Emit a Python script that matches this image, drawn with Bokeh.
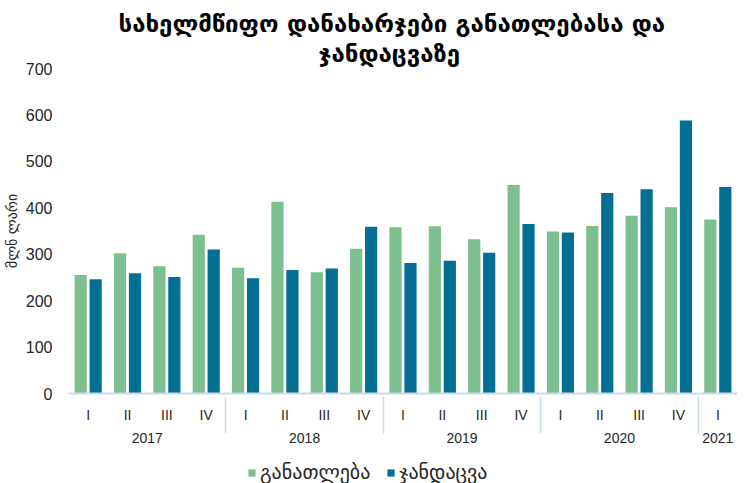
from bokeh.plotting import figure
from bokeh.layouts import column
from bokeh.models import (FactorRange, ColumnDataSource, FixedTicker, Legend, LegendItem,
                          Title, Range1d)
from bokeh.transform import dodge
from bokeh.embed import file_html
from bokeh.resources import INLINE

years = ["2017"] * 4 + ["2018"] * 4 + ["2019"] * 4 + ["2020"] * 4 + ["2021"]
quarters = ["I", "II", "III", "IV"] * 4 + ["I"]
education = [255, 302, 274, 342, 271, 413, 261, 312, 358, 360, 332, 449, 349, 361, 383, 401, 375]
health = [246, 259, 251, 310, 248, 266, 269, 359, 281, 286, 303, 365, 347, 432, 440, 588, 445]
series_names = ["განათლება", "ჯანდაცვა"]
title_lines = ["სახელმწიფო დანახარჯები განათლებასა და", "ჯანდაცვაზე"]
y_label = "მლნ ლარი"
y_ticks = [0, 100, 200, 300, 400, 500, 600, 700]

GREEN = "#7EBF8F"
BLUE = "#036F93"
SEP = "#C9DAEE"
TXT = "#262626"

factors = list(zip(years, quarters))
src = ColumnDataSource(dict(x=factors, edu=education, hl=health))

p = figure(x_range=FactorRange(*factors, group_padding=0, range_padding=0),
           y_range=(0, 700), frame_width=669, frame_height=325,
           output_backend="svg", toolbar_location=None,
           min_border_left=61, min_border_right=4, min_border_top=4, min_border_bottom=67)

r1 = p.vbar(x=dodge("x", -0.19, range=p.x_range), top="edu", width=0.31, source=src,
            fill_color=GREEN, line_color=None)
r2 = p.vbar(x=dodge("x", 0.19, range=p.x_range), top="hl", width=0.31, source=src,
            fill_color=BLUE, line_color=None)

p.add_layout(Title(text=title_lines[1], align="left", offset=250, text_font="DejaVu Sans",
                   text_font_size="24px", text_font_style="bold", text_color="black",
                   standoff=1), "above")
p.add_layout(Title(text=title_lines[0], align="left", offset=50, text_font="DejaVu Sans",
                   text_font_size="24px", text_font_style="bold", text_color="black",
                   standoff=0), "above")
# small blank strip above the title
p.add_layout(Title(text=" ", text_font_size="4px", standoff=0), "above")

p.outline_line_color = None
p.xgrid.grid_line_color = None
p.ygrid.grid_line_color = None

ya = p.yaxis[0]
ya.ticker = FixedTicker(ticks=y_ticks)
ya.axis_line_color = None
ya.major_tick_line_color = None
ya.minor_tick_line_color = None
ya.major_label_text_font = "Liberation Sans"
ya.major_label_text_font_size = "16px"
ya.major_label_text_color = TXT
ya.major_label_standoff = 10
ya.axis_label = y_label
ya.axis_label_text_font = "DejaVu Sans"
ya.axis_label_text_font_size = "14px"
ya.axis_label_text_font_style = "normal"
ya.axis_label_text_color = TXT
ya.axis_label_standoff = 3

xa = p.xaxis[0]
xa.axis_line_color = SEP
xa.axis_line_width = 2
xa.major_tick_line_color = None
xa.minor_tick_line_color = None
xa.major_label_text_font = "Liberation Sans"
xa.major_label_text_font_size = "14px"
xa.major_label_text_color = TXT
xa.major_label_standoff = 7
xa.group_text_font = "Liberation Sans"
xa.group_text_font_size = "14px"
xa.group_text_font_style = "normal"
xa.group_text_color = TXT
xa.separator_line_color = SEP
xa.separator_line_width = 1.5

# legend strip below the chart (proxy renderers carry the series colours)
lg = figure(width=734, height=24, x_range=Range1d(0, 1), y_range=Range1d(0, 1),
            x_axis_type=None, y_axis_type=None, output_backend="svg",
            toolbar_location=None, min_border=0)
lg.outline_line_color = None
lg.xgrid.grid_line_color = None
lg.ygrid.grid_line_color = None
nan = float("nan")
g1 = lg.vbar(x=[nan], top=[nan], width=0.1, fill_color=GREEN, line_color=None)
g2 = lg.vbar(x=[nan], top=[nan], width=0.1, fill_color=BLUE, line_color=None)
legend = Legend(items=[LegendItem(label=series_names[0], renderers=[g1]),
                       LegendItem(label=series_names[1], renderers=[g2])],
                orientation="horizontal", location=(179, 0),
                label_text_font="DejaVu Sans", label_text_font_size="20px",
                label_text_color=TXT, glyph_width=9, glyph_height=9,
                spacing=16, label_standoff=4, border_line_color=None,
                background_fill_alpha=0, padding=0, margin=0, label_height=18)
lg.add_layout(legend, "center")

layout = column(p, lg, spacing=0)
open("out.html", "w").write(file_html(layout, INLINE))
